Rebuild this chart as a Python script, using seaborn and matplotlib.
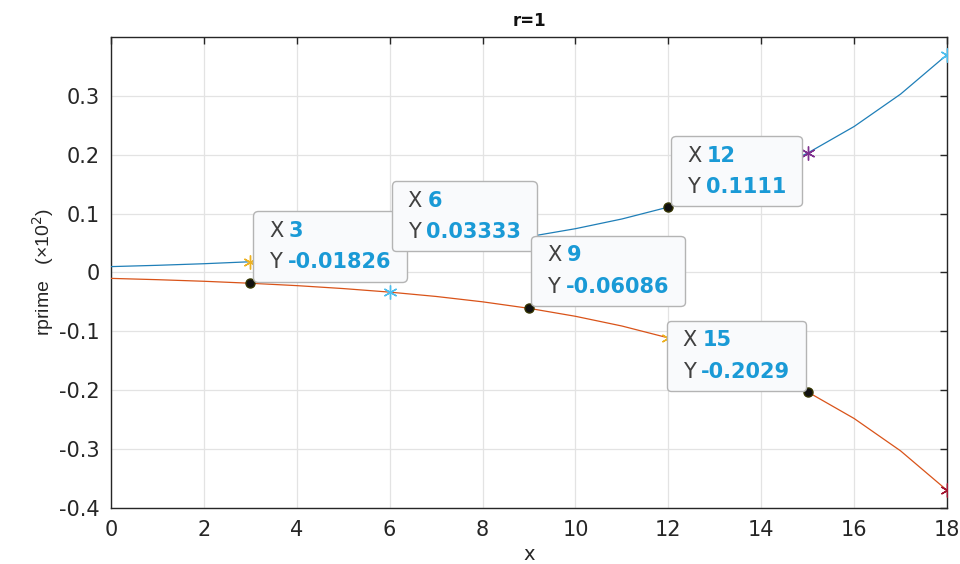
import numpy as np
import pandas as pd
import seaborn as sns
import matplotlib
matplotlib.use("Agg")
import matplotlib.pyplot as plt
from matplotlib.offsetbox import TextArea, HPacker, VPacker, AnnotationBbox, DrawingArea

# ---------------- data ----------------
x_vals = [0, 1, 2, 3, 4, 5, 6, 7, 8, 9, 10, 11, 12, 13, 14, 15, 16, 17, 18]
upper_vals = [0.0100, 0.0122, 0.0149, 0.01826, 0.0223, 0.0273, 0.03333, 0.0407,
              0.0498, 0.06086, 0.0744, 0.0909, 0.1111, 0.1358, 0.1660, 0.2029,
              0.2480, 0.3030, 0.3700]
lower_vals = [-v for v in upper_vals]

# star markers: (x, y, colour)
star_x = [3, 15, 18, 6, 12, 18]
star_y = [0.01826, 0.2029, 0.3700, -0.03333, -0.1111, -0.3700]
star_colors = ["#EDB120", "#7E2F8E", "#4DBEEE", "#4DBEEE", "#EDB120", "#A2142F"]

# data tips
tip_x = [3, 6, 9, 12, 15]
tip_y = [-0.01826, 0.03333, -0.06086, 0.1111, -0.2029]
tip_xlabels = ["3", "6", "9", "12", "15"]
tip_ylabels = ["-0.01826", "0.03333", "-0.06086", "0.1111", "-0.2029"]

xticks = [0, 2, 4, 6, 8, 10, 12, 14, 16, 18]
yticks = [-0.4, -0.3, -0.2, -0.1, 0, 0.1, 0.2, 0.3]
ytick_labels = ["-0.4", "-0.3", "-0.2", "-0.1", "0", "0.1", "0.2", "0.3"]

# ---------------- styling ----------------
sns.set_theme(style="whitegrid")
plt.rcParams["font.family"] = ["DejaVu Sans"]
plt.rcParams["axes.unicode_minus"] = False

fig = plt.figure(figsize=(9.6, 5.64), dpi=100)
ax = fig.add_axes([0.1156, 0.0993, 0.8709, 0.8351])

df = pd.DataFrame({
    "x": x_vals + x_vals,
    "y": upper_vals + lower_vals,
    "series": ["upper"] * len(x_vals) + ["lower"] * len(x_vals),
})
sns.lineplot(data=df, x="x", y="y", hue="series",
             palette={"upper": "#1f7fb8", "lower": "#D95319"},
             linewidth=0.9, legend=False, ax=ax, zorder=3)

for sx, sy, sc in zip(star_x, star_y, star_colors):
    ax.plot([sx], [sy], marker=(6, 2, 0), markersize=10, color=sc,
            markeredgewidth=1.0, linestyle="none", zorder=4)

ax.plot(tip_x, tip_y, marker="o", markersize=6.5, color="#111111",
        markeredgecolor="#333300", linestyle="none", zorder=5)

# data tip boxes: offsets in points (dx, dy) and alignment
tip_offsets = [(2, 1), (1.5, 1), (1.5, 1.5), (2, 0.5), (-1, 0.5)]
tip_align = [(0, 0), (0, 0), (0, 0), (0, 0), (1, 0)]
for tx, ty, xl, yl, off, al in zip(tip_x, tip_y, tip_xlabels, tip_ylabels,
                                   tip_offsets, tip_align):
    base = dict(color="#404040", fontsize=15)
    val = dict(color="#1a9ad6", fontsize=15, fontweight="bold")
    r1 = HPacker(children=[DrawingArea(0.5, 1), TextArea("X", textprops=base),
                           TextArea(xl, textprops=val), DrawingArea(0.5, 1)],
                 pad=0, sep=4)
    r2 = HPacker(children=[DrawingArea(0.5, 1), TextArea("Y", textprops=base),
                           TextArea(yl, textprops=val), DrawingArea(0.5, 1)],
                 pad=0, sep=4)
    box = VPacker(children=[r1, r2], pad=7, sep=8, align="left")
    ab = AnnotationBbox(box, (tx, ty), xycoords="data", xybox=off,
                        boxcoords="offset points", box_alignment=al,
                        frameon=True, pad=0,
                        bboxprops=dict(boxstyle="round,pad=0,rounding_size=0.3",
                                       fc="#f9fafc", ec="#b4b4b4", lw=1.0),
                        zorder=6)
    ax.add_artist(ab)

ax.set_xlim(0, 18)
ax.set_ylim(-0.4, 0.4)
ax.set_xticks(xticks)
ax.set_yticks(yticks)
ax.set_yticklabels(ytick_labels)
ax.grid(True, color="#e3e3e3", linewidth=0.9)
ax.set_axisbelow(True)
ax.set_facecolor("white")
for s in ax.spines.values():
    s.set_color("#262626")
    s.set_linewidth(1.0)
    s.set_visible(True)
ax.tick_params(direction="in", length=5, width=1, colors="#262626",
               labelcolor="#262626", labelsize=15, top=True, right=True,
               pad=8)
ax.tick_params(axis="x", pad=9)

ax.set_title("r=1", fontsize=12, fontweight="bold", pad=8, color="#111111")
ax.set_xlabel("x", fontsize=14, labelpad=3, color="#262626")
ax.set_ylabel("rprime   (×10$^{2}$)", fontsize=14, labelpad=2, color="#262626",
              family=["Liberation Sans", "DejaVu Sans"])

fig.savefig("out.png", dpi=100, facecolor="white")
